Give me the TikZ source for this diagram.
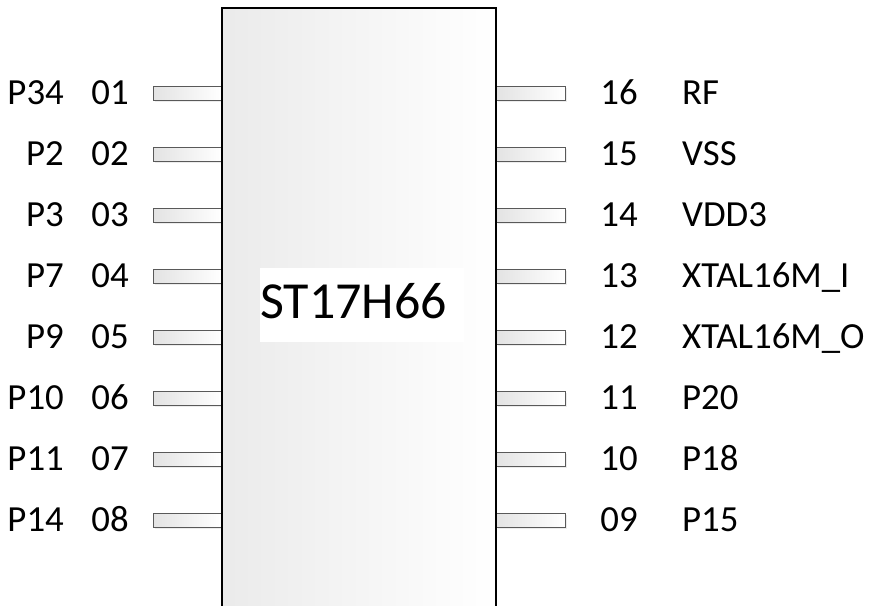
\documentclass[tikz,border=0pt]{standalone}
\usepackage{fontspec}
\setmainfont{Carlito}
\usepackage{tikz}
\usetikzlibrary{positioning,shadows}

\begin{document}
\begin{tikzpicture}[x=1pt, y=-1pt, font=\fontsize{36.8}{40}\selectfont,
    chip/.style={draw, line width=2pt, left color=black!8, right color=white,
      minimum width=274pt, minimum height=600pt, inner sep=0pt},
    pinbox/.style={draw=black!65, line width=1pt, left color=black!11, right color=white,
      minimum width=69pt, minimum height=14pt, inner sep=0pt,
      drop shadow={opacity=0.15, shadow xshift=1.5pt, shadow yshift=-1.5pt}},
    lbl/.style={inner sep=0pt, anchor=base}]
    \useasboundingbox (0,0) rectangle (870,605);
    % left side
    \foreach \n/\name [count=\i from 0] in {01/P34, 02/P2, 03/P3, 04/P7, 05/P9, 06/P10, 07/P11, 08/P14}
    {
      \node (pl\n) [pinbox] at (187.5, {93+61*\i}) {};
      \node (nl\n) [lbl] at (110, {104.8+61*\i}) {\n};
      \node (tl\n) [lbl, anchor=base east] at (64, {104.8+61*\i}) {\name};
    }
    % right side
    \foreach \n/\name [count=\i from 0] in {16/RF, 15/VSS, 14/VDD3, 13/XTAL16M\_I, 12/XTAL16M\_O, 11/P20, 10/P18, 09/P15}
    {
      \node (pr\n) [pinbox] at (530.5, {93+61*\i}) {};
      \node (nr\n) [lbl] at (619, {104.8+61*\i}) {\n};
      \node (tr\n) [lbl, anchor=base west] at (682, {104.8+61*\i}) {\name};
    }
    \node (chip) [chip, anchor=north west] at (221,7) {};
    \node (name) [fill=white, inner xsep=0pt, inner ysep=0pt, text width=204pt, align=left,
      text height=33pt, text depth=7pt, minimum height=74pt, anchor=base west,
      font=\fontsize{52}{60}\selectfont] at (260,318) {ST17H66};
  \end{tikzpicture}
\end{document}
